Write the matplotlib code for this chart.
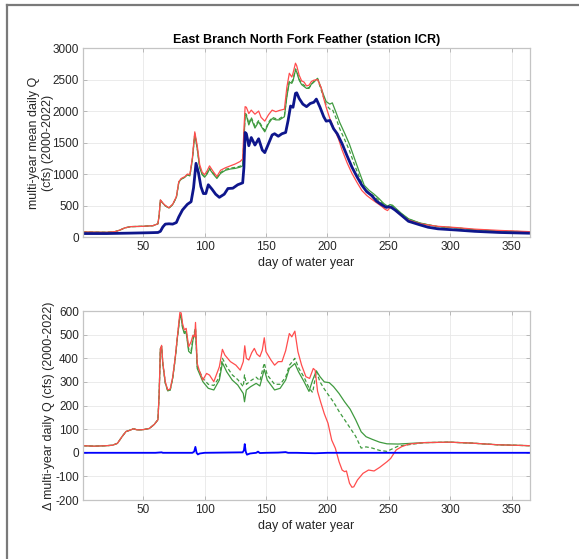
import matplotlib
matplotlib.use("Agg")
import matplotlib.pyplot as plt
from matplotlib.lines import Line2D

plt.rcParams["font.family"] = ["Liberation Sans", "DejaVu Sans"]
plt.rcParams["axes.unicode_minus"] = False

TITLE = "East Branch North Fork Feather (station ICR)"

# ---- top panel: multi-year mean daily Q (cfs) ----
base_days = [1, 20, 40, 55, 62, 64, 66, 68, 71, 74, 77, 79, 82, 86, 89, 91, 93, 95, 97, 99,
             101, 103, 106, 109, 112, 116, 119, 123, 127, 131, 132, 133, 134, 136, 138, 141,
             144, 147, 149, 152, 155, 157, 160, 163, 166, 168, 170, 172, 174, 175, 177, 180,
             183, 186, 189, 191, 194, 197, 199, 202, 205, 208, 212, 216, 220, 224, 228, 232,
             236, 240, 244, 248, 250, 252, 255, 260, 266, 275, 282, 290, 305, 320, 340, 365]
base_q = [55, 55, 62, 68, 72, 90, 160, 205, 210, 205, 230, 320, 430, 520, 560, 780, 1170,
          1020, 800, 690, 690, 830, 760, 680, 630, 680, 770, 775, 830, 860, 1100, 1660, 1640,
          1450, 1580, 1460, 1560, 1380, 1340, 1480, 1620, 1640, 1600, 1640, 1660, 1850, 2080,
          2060, 2280, 2290, 2200, 2110, 2070, 2120, 2140, 2190, 2060, 1910, 1840, 1850, 1720,
          1640, 1480, 1290, 1110, 960, 825, 720, 660, 570, 515, 470, 480, 470, 430, 350, 250,
          195, 155, 130, 111, 90, 72, 60]

red_days = [1, 20, 27, 31, 35, 40, 50, 58, 62, 63, 64, 66, 68, 71, 74, 77, 79, 81, 84, 86,
            88, 90, 92, 94, 96, 98, 100, 102, 104, 107, 110, 113, 117, 121, 125, 129, 131,
            132, 133, 134, 136, 138, 141, 144, 146, 149, 152, 155, 158, 161, 165, 167, 169,
            171, 172, 174, 175, 177, 179, 181, 183, 185, 187, 189, 192, 195, 197, 199, 202,
            205, 209, 212, 216, 220, 224, 228, 232, 236, 240, 244, 247, 249, 251, 253, 256,
            260, 266, 275, 282, 290, 305, 320, 340, 365]
red_q = [80, 75, 85, 110, 145, 165, 170, 180, 210, 350, 590, 540, 500, 465, 520, 640, 880,
         930, 960, 1000, 990, 1250, 1670, 1450, 1150, 1030, 990, 1050, 1130, 1040, 960, 1060,
         1100, 1130, 1160, 1200, 1240, 1700, 2070, 2060, 1960, 2015, 1950, 2000, 1900, 1840,
         1940, 2015, 1990, 2010, 2030, 2380, 2600, 2540, 2600, 2760, 2720, 2570, 2480, 2460,
         2400, 2410, 2470, 2490, 2500, 2370, 2200, 2060, 1880, 1740, 1560, 1380, 1180, 1010,
         870, 740, 660, 600, 545, 490, 440, 420, 470, 460, 410, 340, 270, 215, 190, 170, 150,
         125, 105, 85]

green_days = [1, 20, 27, 31, 35, 40, 50, 58, 62, 63, 64, 66, 68, 71, 74, 77, 79, 81, 84, 86,
              88, 90, 92, 94, 96, 98, 100, 102, 104, 107, 110, 113, 117, 121, 125, 129, 131,
              132, 133, 134, 136, 138, 141, 144, 146, 149, 152, 155, 158, 161, 165, 167, 169,
              171, 172, 174, 175, 177, 179, 181, 183, 185, 187, 189, 192, 195, 197, 199, 202,
              204, 207, 210, 214, 218, 222, 226, 230, 234, 238, 242, 246, 249, 251, 253, 256,
              260, 266, 275, 282, 290, 305, 320, 340, 365]
green_q = [80, 75, 85, 110, 145, 165, 170, 180, 210, 350, 585, 535, 495, 460, 515, 630, 870,
           920, 950, 990, 970, 1220, 1630, 1400, 1100, 990, 950, 1000, 1080, 1000, 930, 1010,
           1060, 1080, 1090, 1110, 1130, 1500, 1940, 1930, 1780, 1880, 1730, 1830, 1760, 1670,
           1800, 1880, 1860, 1860, 1910, 2230, 2460, 2440, 2480, 2650, 2620, 2490, 2420, 2390,
           2360, 2360, 2430, 2460, 2520, 2360, 2250, 2150, 2110, 2130, 1980, 1820, 1650, 1470,
           1250, 1030, 820, 740, 680, 610, 530, 490, 515, 505, 450, 380, 290, 225, 195, 165,
           145, 115, 95, 82]
green_dash_q = [80, 75, 85, 110, 145, 165, 170, 180, 210, 350, 585, 535, 495, 460, 515, 630,
                870, 920, 950, 990, 970, 1230, 1640, 1410, 1110, 1000, 965, 1015, 1095, 1015,
                945, 1025, 1075, 1095, 1105, 1125, 1145, 1530, 1960, 1950, 1800, 1900, 1760,
                1850, 1780, 1690, 1820, 1900, 1880, 1880, 1930, 2250, 2480, 2460, 2500, 2670,
                2640, 2510, 2440, 2410, 2380, 2370, 2420, 2470, 2510, 2330, 2210, 2100, 2030,
                2030, 1890, 1720, 1550, 1370, 1150, 950, 780, 700, 650, 580, 510, 470, 500,
                490, 440, 370, 285, 222, 193, 164, 145, 115, 95, 82]

# ---- bottom panel: difference in multi-year daily Q (cfs) ----
red_d_days = [1, 10, 20, 25, 29, 33, 36, 40, 42, 45, 50, 55, 59, 62, 63, 64, 65, 66, 68, 70,
              72, 74, 76, 78, 80, 81, 82, 83.5, 85, 87, 89, 90.5, 92, 92.6, 94, 95.6, 98.6,
              101.6, 104, 107.5, 112, 114.5, 116.5, 121, 125.5, 129, 131.5, 132.7, 134, 136,
              138.4, 140.5, 142.6, 145, 147, 148.6, 150, 154, 157, 160, 163, 166, 169, 171,
              173.5, 176, 179, 182.5, 185.5, 188.5, 190, 192, 194.5, 197.5, 200.5, 203.5,
              206.5, 209.5, 212, 214, 215.5, 218, 220, 221.5, 224.5, 229, 233.5, 238, 242.5,
              248.5, 251.5, 256, 260.5, 266.5, 278.5, 299.5, 317.5, 338.5, 365]
red_d = [30, 28, 30, 32, 40, 70, 90, 97, 102, 97, 98, 103, 120, 140, 250, 440, 455, 380, 300,
         266, 270, 320, 400, 500, 600, 590, 548, 520, 527, 449, 470, 498, 491, 552, 378, 350,
         308, 336, 329, 301, 364, 438, 414, 386, 371, 350, 386, 453, 400, 393, 424, 442, 418,
         407, 435, 487, 428, 393, 371, 386, 386, 432, 505, 491, 515, 428, 371, 322, 315, 357,
         350, 260, 215, 165, 125, 54, 19, -38, -73, -80, -77, -129, -146, -144, -115, -87,
         -73, -77, -62, -38, -24, 12, 26, 37, 43, 45, 41, 34, 30]

green_d_days = [1, 10, 20, 25, 29, 33, 36, 40, 42, 45, 50, 55, 59, 62, 63, 64, 65, 66, 68,
                70, 72, 74, 76, 78, 80, 81, 82, 83.5, 85, 87, 89, 90.5, 92.6, 94, 98.6, 103,
                107.5, 112, 114.5, 118, 122.5, 127, 131.5, 132.5, 134, 137.5, 142, 145, 148.6,
                151, 157, 161.5, 166, 169, 173.5, 176.5, 181, 185, 188, 191, 194, 197.5, 201.5,
                205, 209.5, 214, 218.5, 223, 227.5, 231.5, 236.5, 242.5, 248.5, 257.5, 278.5,
                299.5, 317.5, 338.5, 365]
green_d = [30, 28, 30, 32, 40, 70, 90, 97, 102, 97, 98, 103, 120, 140, 250, 440, 450, 375,
           295, 262, 266, 316, 395, 495, 580, 570, 530, 505, 510, 430, 420, 477, 520, 357, 301,
           273, 266, 308, 381, 343, 308, 287, 251, 216, 266, 280, 294, 283, 353, 308, 266, 273,
           308, 357, 378, 343, 301, 260, 308, 347, 322, 300, 297, 280, 251, 216, 185, 140, 89,
           68, 57, 45, 38, 37, 43, 45, 41, 34, 30]
green_dash_d = [30, 28, 30, 32, 40, 70, 90, 97, 102, 97, 98, 103, 120, 140, 250, 440, 450,
                375, 295, 262, 266, 316, 395, 495, 585, 575, 535, 510, 515, 440, 430, 485, 530,
                365, 315, 290, 285, 320, 400, 365, 330, 310, 280, 330, 290, 305, 320, 305, 380,
                330, 290, 290, 320, 370, 400, 360, 320, 275, 255, 345, 300, 270, 240, 215, 175,
                140, 105, 70, 20, 25, 20, 10, 6, 28, 43, 45, 41, 34, 30]

blue_d_days = [1, 60, 65, 66, 90, 91.5, 92.5, 93.5, 94.5, 96, 100, 131, 132, 132.7, 133.5,
               134.5, 137, 142, 143.5, 145, 150, 160, 166, 168, 175, 190, 200, 365]
blue_d = [0, 0, 2, 0, 0, 5, 25, 0, -7, -3, 0, 2, 10, 37, 5, -8, -3, 0, 5, -1, 0, 1, 3, 0,
          0, -2, 0, 0]

NAVY = "#0e168c"
RED = "#ff4d4d"
GREEN = "#3f9a3f"
BLUE = "#0000ff"
SPINE = "#c4c4c4"
TEXT = "#262626"


def style_axes(ax):
    ax.set_xlim(1, 365)
    ax.set_xticks([50, 100, 150, 200, 250, 300, 350])
    ax.grid(True, color="#e8e8e8", linewidth=0.6)
    ax.set_axisbelow(True)
    for spine in ax.spines.values():
        spine.set_color(SPINE)
        spine.set_linewidth(0.9)
    ax.tick_params(direction="in", length=3, width=0.6, color="#b0b0b0",
                   labelsize=8.5, labelcolor=TEXT, top=True, right=True, pad=3)


fig = plt.figure(figsize=(5.79, 5.59), dpi=100)
ax_top = fig.add_axes([0.1434, 0.576, 0.772, 0.338])
ax_bot = fig.add_axes([0.1434, 0.1055, 0.772, 0.338])

ax_top.plot(green_days, green_q, color=GREEN, linewidth=0.9)
ax_top.plot(green_days, green_dash_q, color=GREEN, linewidth=0.9, linestyle=(0, (3, 2)))
ax_top.plot(red_days, red_q, color=RED, linewidth=0.9)
ax_top.plot(base_days, base_q, color=NAVY, linewidth=2.0)
ax_top.set_ylim(0, 3000)
ax_top.set_yticks([0, 500, 1000, 1500, 2000, 2500, 3000])
style_axes(ax_top)
ax_top.set_title(TITLE, fontsize=9, fontweight="bold", color="black", pad=4)
ax_top.set_xlabel("day of water year", fontsize=9, color=TEXT, labelpad=3)
ax_top.set_ylabel("multi-year mean daily Q\n(cfs) (2000-2022)", fontsize=9, color=TEXT,
                  labelpad=-1)

ax_bot.plot(green_d_days, green_d, color=GREEN, linewidth=0.9)
ax_bot.plot(green_d_days, green_dash_d, color=GREEN, linewidth=0.9, linestyle=(0, (3, 2)))
ax_bot.plot(red_d_days, red_d, color=RED, linewidth=0.9)
ax_bot.plot(blue_d_days, blue_d, color=BLUE, linewidth=1.3)
ax_bot.set_ylim(-200, 600)
ax_bot.set_yticks(list(range(-200, 601, 100)))
style_axes(ax_bot)
ax_bot.set_xlabel("day of water year", fontsize=9, color=TEXT, labelpad=3)
ax_bot.set_ylabel("\u0394 multi-year daily Q (cfs) (2000-2022)", fontsize=9, color=TEXT,
                  labelpad=0)

# window frame edges seen in the reference screenshot
fig.add_artist(Line2D([7 / 579, 1.0], [1 - 5 / 559, 1 - 5 / 559], color="#7a7a7a",
                      linewidth=1.6, transform=fig.transFigure))
fig.add_artist(Line2D([7 / 579, 7 / 579], [0.0, 1 - 5 / 559], color="#7a7a7a",
                      linewidth=1.6, transform=fig.transFigure))

fig.savefig("out.png", dpi=100)
